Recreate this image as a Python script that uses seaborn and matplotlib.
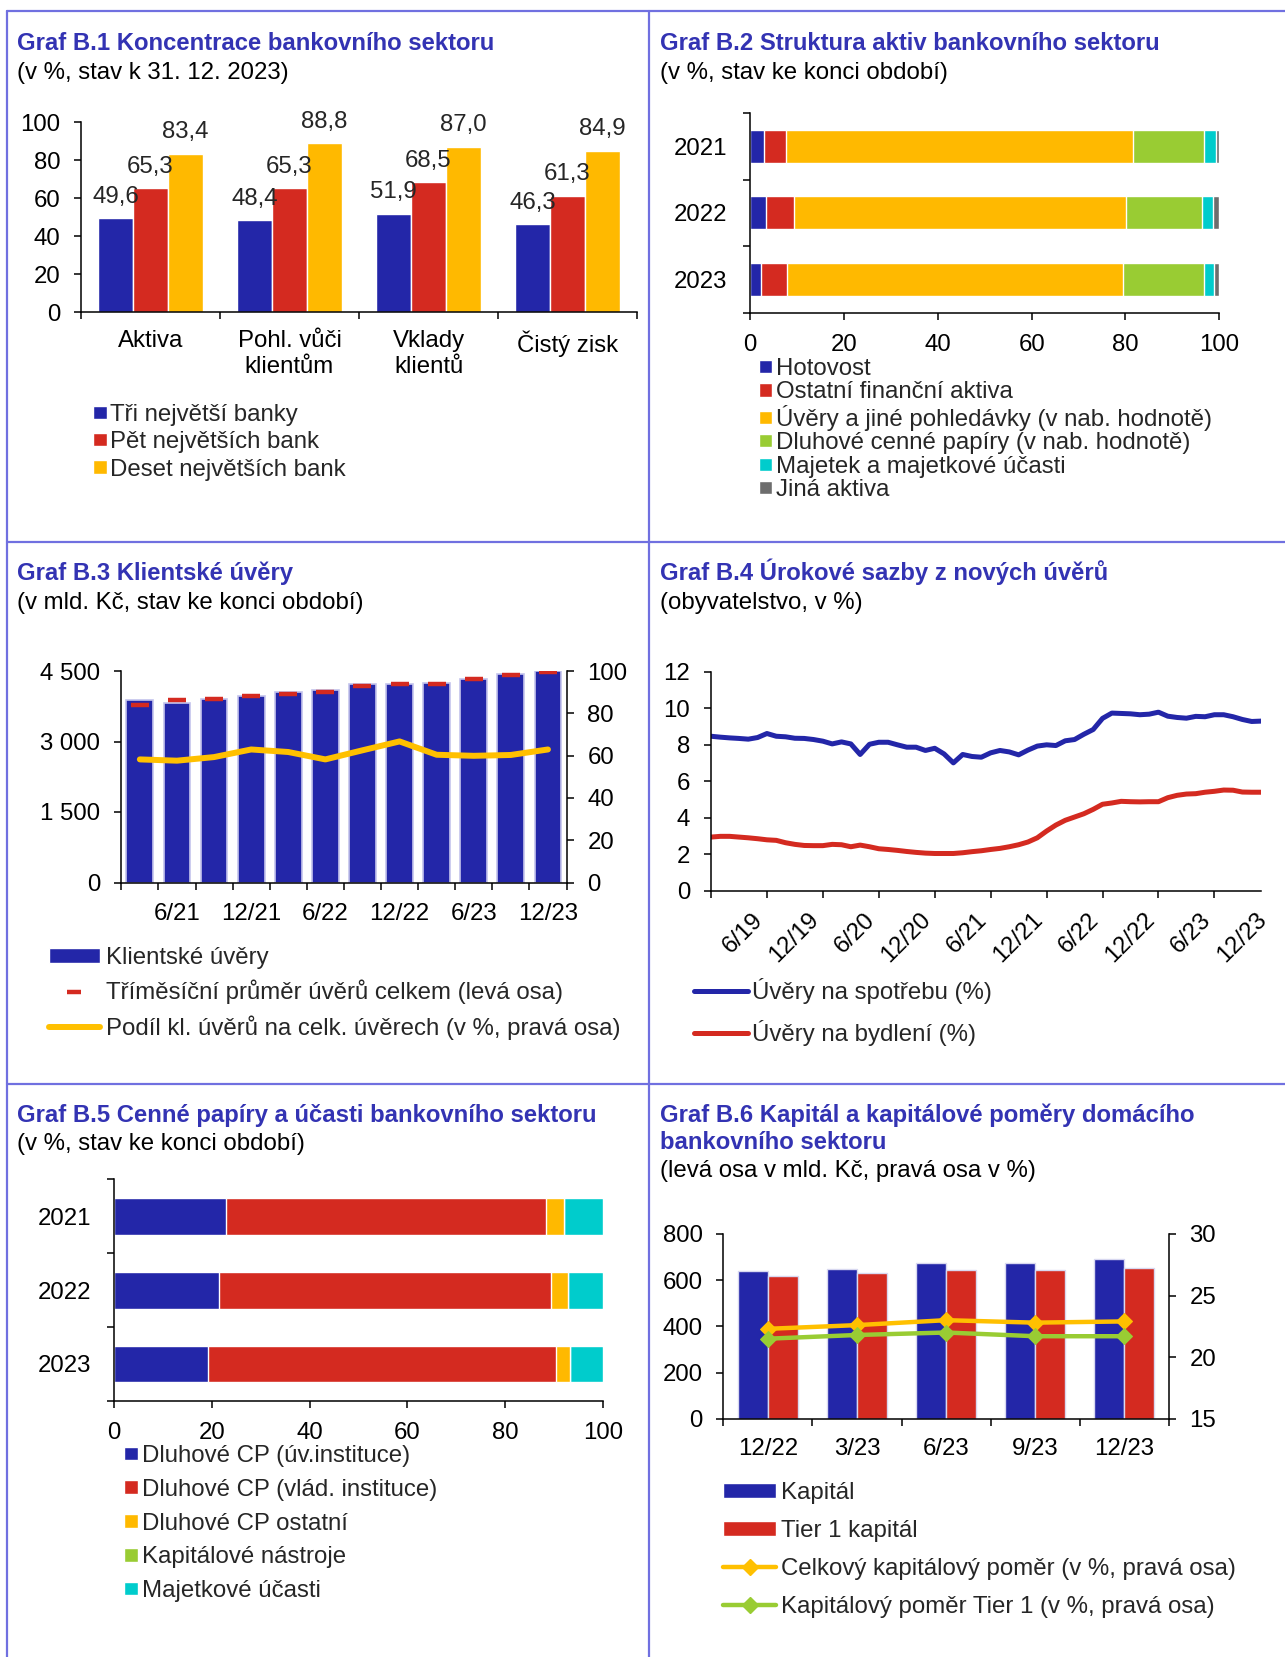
import numpy as np
import pandas as pd
import seaborn as sns
import matplotlib.pyplot as plt
from matplotlib.lines import Line2D
from matplotlib.patches import Patch

# canvas size in pixels (dpi 100)
W, H = 1285, 1657

BLUE = "#2326A8"
RED = "#D42A20"
YELLOW = "#FFB900"
LINE_YELLOW = "#FFC000"
GREEN = "#99CC33"
CYAN = "#00CCCC"
GRAY = "#6D6D6D"
TITLE = "#3333B3"
BORDER = "#7070E0"
FS = 17.3
TFS = 17.2

# ---------------- data: Graf B.1
b1_categories = ["Aktiva", "Pohl. vůči\nklientům", "Vklady\nklientů", "Čistý zisk"]
b1_series = ["Tři největší banky", "Pět největších bank", "Deset největších bank"]
b1_top3 = [49.6, 48.4, 51.9, 46.3]
b1_top5 = [65.3, 65.3, 68.5, 61.3]
b1_top10 = [83.4, 88.8, 87.0, 84.9]

# ---------------- data: Graf B.2
b2_years = ["2021", "2022", "2023"]
b2_labels = ["Hotovost", "Ostatní finanční aktiva",
             "Úvěry a jiné pohledávky (v nab. hodnotě)",
             "Dluhové cenné papíry (v nab. hodnotě)",
             "Majetek a majetkové účasti", "Jiná aktiva"]
b2_cash = [3.0, 3.4, 2.3]
b2_other_fin = [4.6, 5.9, 5.5]
b2_loans = [74.1, 70.8, 71.7]
b2_debt = [15.1, 16.3, 17.2]
b2_equity = [2.4, 2.3, 2.2]
b2_other = [0.8, 1.3, 1.1]

# ---------------- data: Graf B.3
b3_quarters = ["3/21", "6/21", "9/21", "12/21", "3/22", "6/22",
               "9/22", "12/22", "3/23", "6/23", "9/23", "12/23"]
b3_client_loans = [3876, 3819, 3897, 3968, 4046, 4088, 4216, 4216, 4252, 4337, 4443, 4500]
b3_avg_total = [3776, 3883, 3904, 3975, 4017, 4053, 4188, 4230, 4230, 4330, 4415, 4479]
b3_share = [58.2, 57.6, 59.3, 62.9, 61.7, 58.2, 62.5, 66.7, 60.4, 59.9, 60.3, 62.9]
b3_labels = ["Klientské úvěry", "Tříměsíční průměr úvěrů celkem (levá osa)",
             "Podíl kl. úvěrů na celk. úvěrech (v %, pravá osa)"]

# ---------------- data: Graf B.4 (monthly)
b4_consumer = [8.46, 8.41, 8.37, 8.34, 8.30, 8.39, 8.61, 8.46, 8.43, 8.35,
               8.34, 8.28, 8.19, 8.04, 8.15, 8.04, 7.46, 8.02, 8.13, 8.13,
               7.99, 7.86, 7.86, 7.68, 7.80, 7.49, 7.00, 7.46, 7.35, 7.31,
               7.55, 7.68, 7.60, 7.44, 7.70, 7.92, 7.99, 7.95, 8.21, 8.28,
               8.57, 8.83, 9.44, 9.73, 9.71, 9.69, 9.64, 9.67, 9.78, 9.56,
               9.49, 9.45, 9.55, 9.53, 9.64, 9.64, 9.53, 9.38, 9.27, 9.29]
b4_housing = [2.93, 2.97, 2.97, 2.93, 2.89, 2.84, 2.78, 2.75, 2.62, 2.53,
              2.47, 2.46, 2.46, 2.53, 2.51, 2.40, 2.49, 2.40, 2.29, 2.25,
              2.20, 2.14, 2.09, 2.05, 2.03, 2.03, 2.03, 2.07, 2.13, 2.18,
              2.25, 2.31, 2.40, 2.51, 2.66, 2.89, 3.26, 3.59, 3.85, 4.03,
              4.21, 4.45, 4.73, 4.80, 4.89, 4.87, 4.86, 4.87, 4.87, 5.09,
              5.22, 5.29, 5.31, 5.39, 5.44, 5.51, 5.50, 5.40, 5.39, 5.39]
b4_tick_labels = ["6/19", "12/19", "6/20", "12/20", "6/21", "12/21",
                  "6/22", "12/22", "6/23", "12/23"]
b4_labels = ["Úvěry na spotřebu (%)", "Úvěry na bydlení (%)"]

# ---------------- data: Graf B.5
b5_years = ["2021", "2022", "2023"]
b5_labels = ["Dluhové CP (úv.instituce)", "Dluhové CP (vlád. instituce)",
             "Dluhové CP ostatní", "Kapitálové nástroje", "Majetkové účasti"]
b5_debt_credit = [22.9, 21.4, 19.2]
b5_debt_gov = [65.5, 67.9, 71.1]
b5_debt_other = [3.6, 3.5, 2.9]
b5_capital_instr = [0.0, 0.0, 0.0]
b5_participations = [8.0, 7.2, 6.8]

# ---------------- data: Graf B.6
b6_dates = ["12/22", "3/23", "6/23", "9/23", "12/23"]
b6_capital = [638, 650, 673, 674, 690]
b6_tier1 = [617, 631, 643, 644, 654]
b6_total_ratio = [22.3, 22.6, 23.0, 22.8, 22.9]
b6_tier1_ratio = [21.5, 21.8, 22.0, 21.7, 21.7]
b6_labels = ["Kapitál", "Tier 1 kapitál",
             "Celkový kapitálový poměr (v %, pravá osa)",
             "Kapitálový poměr Tier 1 (v %, pravá osa)"]

sns.set_theme(style="ticks")
plt.rcParams["font.family"] = ["Liberation Sans", "DejaVu Sans"]
plt.rcParams["axes.linewidth"] = 1.1
plt.rcParams["axes.edgecolor"] = "black"
plt.rcParams["xtick.color"] = "black"
plt.rcParams["ytick.color"] = "black"

fig = plt.figure(figsize=(W / 100, H / 100), dpi=100)


def px_axes(x0, y0, x1, y1):
    return fig.add_axes([x0 / W, 1 - y1 / H, (x1 - x0) / W, (y1 - y0) / H])


def px_text(x, y, s, **kw):
    fig.text(x / W, 1 - y / H, s, va="baseline", ha="left", **kw)


def px_legend(handles, labels, x, y_top, **kw):
    fig.legend(handles, labels, loc="upper left", bbox_to_anchor=(x / W, 1 - y_top / H),
               frameon=False, borderpad=0, borderaxespad=0, fontsize=FS, **kw)


def titles(x, lines_bold, bold_y, sub, sub_y):
    for s, y in zip(lines_bold, bold_y):
        px_text(x, y, s, fontsize=TFS, fontweight="bold", color=TITLE)
    px_text(x, sub_y, sub, fontsize=FS, color="black")


def base_style(ax, left=True, right=False):
    for side in ["top", "right", "left", "bottom"]:
        ax.spines[side].set_visible(False)
    ax.spines["bottom"].set_visible(True)
    if left:
        ax.spines["left"].set_visible(True)
    if right:
        ax.spines["right"].set_visible(True)
    ax.tick_params(which="both", direction="out", length=5, width=1.1,
                   labelsize=FS, pad=10)
    ax.set_xlabel("")
    ax.set_ylabel("")
    ax.set_facecolor("none")


def fmt_cz(v):
    return f"{v:.1f}".replace(".", ",")


def fmt_thousands(v):
    return f"{v:,.0f}".replace(",", " ")


# ---------------- panel borders
def border(x0, y0, x1, y1):
    fig.add_artist(Line2D([x0 / W, x1 / W], [1 - y0 / H, 1 - y1 / H],
                          transform=fig.transFigure, color=BORDER, lw=1.6))


border(6.6, 11, W, 11)
border(6.6, 11, 6.6, H)
border(649, 11, 649, H)
border(6.6, 541.5, W, 541.5)
border(6.6, 1083.5, W, 1083.5)

# ================= Graf B.1
titles(17.4, ["Graf B.1 Koncentrace bankovního sektoru"], [49.8],
       "(v %, stav k 31. 12. 2023)", 78.6)
ax = px_axes(81, 122.2, 637, 312.3)
b1 = pd.DataFrame({
    "kat": np.tile(b1_categories, 3),
    "serie": np.repeat(b1_series, len(b1_categories)),
    "hodnota": b1_top3 + b1_top5 + b1_top10,
})
sns.barplot(data=b1, x="kat", y="hodnota", hue="serie", hue_order=b1_series,
            palette=[BLUE, RED, YELLOW], saturation=1, width=0.75, legend=False, ax=ax)
for cont in ax.containers:
    ax.bar_label(cont, labels=[fmt_cz(v) for v in cont.datavalues],
                 padding=7.5, fontsize=FS)
base_style(ax)
ax.set_ylim(0, 100)
ax.set_yticks(range(0, 101, 20))
ax.set_xlim(-0.5, 3.5)
ax.set_xticks(np.arange(-0.5, 4, 1), minor=True)
ax.tick_params(axis="x", which="major", length=0, pad=13)
px_legend([Patch(facecolor=c) for c in [BLUE, RED, YELLOW]], b1_series, 93, 404,
          handlelength=0.6, handleheight=0.47, handletextpad=0.12, labelspacing=0.22)

# ================= Graf B.2
titles(660.5, ["Graf B.2 Struktura aktiv bankovního sektoru"], [49.8],
       "(v %, stav ke konci období)", 78.6)
ax = px_axes(750.3, 113, 1219.3, 312.7)
b2_parts = [b2_cash, b2_other_fin, b2_loans, b2_debt, b2_equity, b2_other]
b2_colors = [BLUE, RED, YELLOW, GREEN, CYAN, GRAY]
b2_cum = np.cumsum(np.array(b2_parts), axis=0)
for k in range(len(b2_parts) - 1, -1, -1):
    sns.barplot(x=b2_cum[k], y=b2_years, orient="h", color=b2_colors[k],
                saturation=1, width=0.5, ax=ax)
base_style(ax)
ax.set_xlim(0, 100)
ax.set_xticks(range(0, 101, 20))
ax.set_ylim(2.5, -0.5)
ax.set_yticks(np.arange(-0.5, 3, 1), minor=True)
ax.tick_params(axis="y", which="major", length=0, pad=16.5)
ax.tick_params(axis="x", pad=10)
px_legend([Patch(facecolor=c) for c in b2_colors], b2_labels, 758.5, 358,
          handlelength=0.57, handleheight=0.47, handletextpad=0.17, labelspacing=0.06)

# ================= Graf B.3
titles(17.4, ["Graf B.3 Klientské úvěry"], [580.3],
       "(v mld. Kč, stav ke konci období)", 608.9)
ax = px_axes(121.3, 671, 566.5, 882.5)
sns.barplot(x=b3_quarters, y=b3_client_loans, color=BLUE, saturation=1, width=0.72,
            edgecolor="#C4C4EC", linewidth=1.2, ax=ax)
x3 = np.arange(len(b3_quarters))
ax.plot(x3, b3_avg_total, linestyle="none", marker="_", markersize=12.5,
        markeredgewidth=3.2, color=RED, zorder=5)
base_style(ax)
ax.set_ylim(0, 4500)
ax.set_yticks([0, 1500, 3000, 4500], [fmt_thousands(v) for v in [0, 1500, 3000, 4500]])
ax2 = ax.twinx()
sns.lineplot(x=x3, y=b3_share, color=LINE_YELLOW, lw=4.3, ax=ax2,
             solid_joinstyle="round", solid_capstyle="round")
base_style(ax2, left=False, right=True)
ax2.spines["bottom"].set_visible(False)
ax2.set_ylim(0, 100)
ax2.set_yticks(range(0, 101, 20))
ax.set_xlim(-0.5, len(b3_quarters) - 0.5)
ax.set_xticks(x3[1::2], [b3_quarters[i] for i in x3[1::2]])
ax.set_xticks(np.arange(-0.5, len(b3_quarters), 1), minor=True)
ax.tick_params(axis="x", which="major", length=0, pad=14.5)
px_legend([Patch(facecolor=BLUE),
           Line2D([], [], linestyle="none", marker="_", markersize=10,
                  markeredgewidth=3.2, color=RED),
           Line2D([], [], color=LINE_YELLOW, lw=4.3, solid_capstyle="round")],
          b3_labels, 48.5, 947,
          handlelength=2.15, handleheight=0.53, handletextpad=0.24, labelspacing=0.45)

# ================= Graf B.4
titles(660.5, ["Graf B.4 Úrokové sazby z nových úvěrů"], [580.3],
       "(obyvatelstvo, v %)", 608.9)
ax = px_axes(711, 671.7, 1261, 890.5)
x4 = np.arange(len(b4_consumer))
sns.lineplot(x=x4, y=b4_consumer, color=BLUE, lw=3.6, ax=ax, solid_joinstyle="round")
sns.lineplot(x=x4, y=b4_housing, color=RED, lw=3.6, ax=ax, solid_joinstyle="round")
base_style(ax)
ax.set_ylim(0, 12)
ax.set_yticks(range(0, 13, 2))
ax.set_xlim(0, len(b4_consumer) - 1)
# half-year labels, drawn slightly left of their tick marks as in the original
label_pos = np.arange(1, len(b4_tick_labels) + 1) * 6 - 1.6
ax.set_xticks(label_pos, b4_tick_labels, rotation=45, ha="right", rotation_mode="anchor")
ax.set_xticks(np.arange(0, len(b4_consumer), 6), minor=True)
ax.tick_params(axis="x", which="major", length=0, pad=13)
px_legend([Line2D([], [], color=BLUE, lw=3.6), Line2D([], [], color=RED, lw=3.6)],
          b4_labels, 694, 978,
          handlelength=2.25, handletextpad=0.17, labelspacing=0.68)

# ================= Graf B.5
titles(17.4, ["Graf B.5 Cenné papíry a účasti bankovního sektoru"], [1122.3],
       "(v %, stav ke konci období)", 1149.9)
ax = px_axes(114, 1179.4, 603, 1400.9)
b5_parts = [b5_debt_credit, b5_debt_gov, b5_debt_other, b5_capital_instr, b5_participations]
b5_colors = [BLUE, RED, YELLOW, GREEN, CYAN]
b5_cum = np.cumsum(np.array(b5_parts), axis=0)
for k in range(len(b5_parts) - 1, -1, -1):
    sns.barplot(x=b5_cum[k], y=b5_years, orient="h", color=b5_colors[k],
                saturation=1, width=0.5, ax=ax)
base_style(ax)
ax.set_xlim(0, 100)
ax.set_xticks(range(0, 101, 20))
ax.set_ylim(2.5, -0.5)
ax.set_yticks(np.arange(-0.5, 3, 1), minor=True)
ax.tick_params(axis="y", which="major", length=0, pad=16.5)
ax.tick_params(axis="x", pad=10.5)
px_legend([Patch(facecolor=c) for c in b5_colors], b5_labels, 124, 1445,
          handlelength=0.57, handleheight=0.49, handletextpad=0.18, labelspacing=0.49)

# ================= Graf B.6
titles(660.5, ["Graf B.6 Kapitál a kapitálové poměry domácího", "bankovního sektoru"],
       [1122.3, 1149.2], "(levá osa v mld. Kč, pravá osa v %)", 1177.5)
ax = px_axes(723.4, 1233.8, 1168.7, 1418.9)
b6 = pd.DataFrame({
    "datum": b6_dates * 2,
    "serie": np.repeat(b6_labels[:2], len(b6_dates)),
    "hodnota": b6_capital + b6_tier1,
})
sns.barplot(data=b6, x="datum", y="hodnota", hue="serie", hue_order=b6_labels[:2],
            palette=[BLUE, RED], saturation=1, width=0.67, legend=False,
            edgecolor="#D8D8F0", linewidth=1, ax=ax)
base_style(ax)
ax.set_ylim(0, 800)
ax.set_yticks(range(0, 801, 200))
x6 = np.arange(len(b6_dates))
ax2 = ax.twinx()
sns.lineplot(x=x6, y=b6_total_ratio, color=LINE_YELLOW, lw=3.2, marker="D",
             markersize=8, markeredgecolor=LINE_YELLOW, ax=ax2)
sns.lineplot(x=x6, y=b6_tier1_ratio, color=GREEN, lw=3.2, marker="D",
             markersize=8, markeredgecolor=GREEN, ax=ax2)
base_style(ax2, left=False, right=True)
ax2.spines["bottom"].set_visible(False)
ax2.set_ylim(15, 30)
ax2.set_yticks(range(15, 31, 5))
ax.set_xlim(-0.5, len(b6_dates) - 0.5)
ax.set_xticks(x6, b6_dates)
ax.set_xticks(np.arange(-0.5, len(b6_dates), 1), minor=True)
ax.tick_params(axis="x", which="major", length=0, pad=14)
px_legend([Patch(facecolor=BLUE), Patch(facecolor=RED),
           Line2D([], [], color=LINE_YELLOW, lw=3.2, marker="D", markersize=8),
           Line2D([], [], color=GREEN, lw=3.2, marker="D", markersize=8)],
          b6_labels, 723.4, 1482,
          handlelength=2.2, handleheight=0.55, handletextpad=0.2, labelspacing=0.665)

fig.savefig("out.png", dpi=100)
